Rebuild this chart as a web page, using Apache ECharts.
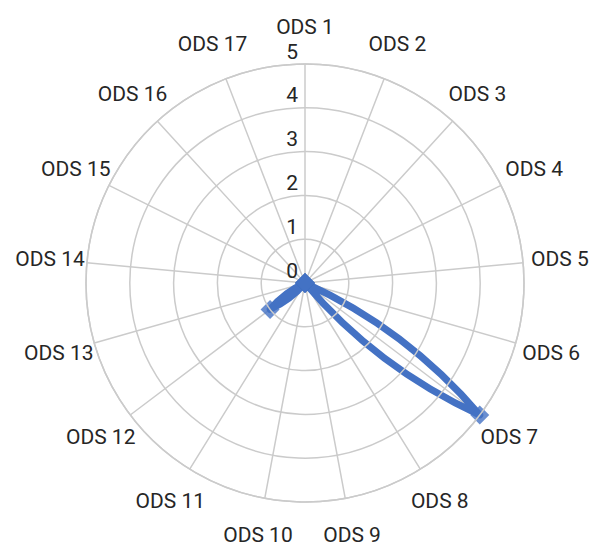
<!DOCTYPE html>
<html><head><meta charset="utf-8">
<script src="https://cdn.jsdelivr.net/npm/echarts@6/dist/echarts.min.js"></script>
<style>html,body{margin:0;padding:0;background:#fff}#chart{width:594px;height:547px}</style>
</head><body><div id="chart"></div>
<script>
// ---- data ----
const categories = ['ODS 1','ODS 2','ODS 3','ODS 4','ODS 5','ODS 6','ODS 7','ODS 8','ODS 9','ODS 10','ODS 11','ODS 12','ODS 13','ODS 14','ODS 15','ODS 16','ODS 17'];
const values = [0,0,0,0,0,0,5,0,0,0,0,1,0,0,0,0,0];
const radiusTickLabels = ['0','1','2','3','4','5'];

// ---- style ----
const AXIS_MAX = 5;
const BLUE = '#4472C4';
const GRID = '#cbcbcb';
const TEXT = '#262626';
const FONT = 'Roboto';
const LABEL_GAP = 37;
const BULGE = 0.9;

function smoothPath(api) {
  const n = values.length;
  const c = api.coord([0, 0]);
  const pts = [];
  for (let i = 0; i < n; i++) {
    const p = api.coord([values[i], i]);
    const e = api.coord([AXIS_MAX, i]);
    pts.push({ p: p, a: Math.atan2(e[1] - c[1], e[0] - c[0]), r: Math.hypot(p[0] - c[0], p[1] - c[1]) });
  }
  let d = 'M' + pts[0].p[0] + ' ' + pts[0].p[1];
  for (let i = 0; i < n; i++) {
    const A = pts[i], B = pts[(i + 1) % n];
    let da = B.a - A.a;
    while (da > Math.PI) da -= 2 * Math.PI;
    while (da < -Math.PI) da += 2 * Math.PI;
    const cps = [1 / 3, 2 / 3].map(function (t) {
      const ang = A.a + da * t, rad = A.r + (B.r - A.r) * t;
      const px = c[0] + rad * Math.cos(ang), py = c[1] + rad * Math.sin(ang);
      const lx = A.p[0] + (B.p[0] - A.p[0]) * t, ly = A.p[1] + (B.p[1] - A.p[1]) * t;
      return [lx + (px - lx) * BULGE, ly + (py - ly) * BULGE];
    });
    d += ' C' + cps[0][0] + ' ' + cps[0][1] + ' ' + cps[1][0] + ' ' + cps[1][1] + ' ' + B.p[0] + ' ' + B.p[1];
  }
  return d + ' Z';
}

const chart = echarts.init(document.getElementById('chart'), null, { renderer: 'svg' });
chart.setOption({
  animation: false,
  backgroundColor: '#ffffff',
  polar: { center: [305, 283], radius: 219 },
  angleAxis: {
    type: 'value',
    min: 0, max: categories.length, interval: 1,
    startAngle: 90,
    clockwise: true,
    axisLine: { show: true, lineStyle: { color: GRID, width: 1.5 } },
    axisTick: { show: false },
    axisLabel: { show: false },
    splitLine: { show: true, lineStyle: { color: GRID, width: 1.5 } }
  },
  radiusAxis: {
    type: 'value',
    min: 0, max: AXIS_MAX, interval: 1,
    axisLine: { show: false },
    axisTick: { show: false },
    splitLine: { show: true, lineStyle: { color: GRID, width: 1.5 } },
    axisLabel: {
      show: true, margin: 7, color: TEXT, fontSize: 21, fontFamily: FONT,
      verticalAlign: 'bottom', padding: [0, 0, 2, 0],
      formatter: function (v) { return radiusTickLabels[Math.round(v)]; }
    },
    z: 10
  },
  series: [
    {
      type: 'custom',
      coordinateSystem: 'polar',
      data: categories.map(function (c, i) { return [0, i]; }),
      encode: { radius: 0, angle: 1 },
      silent: true,
      renderItem: function (params, api) {
        const i = params.dataIndex;
        const c = api.coord([0, i]);
        const e = api.coord([AXIS_MAX, i]);
        const R = Math.hypot(e[0] - c[0], e[1] - c[1]);
        const k = (R + LABEL_GAP) / R;
        return {
          type: 'text',
          x: c[0] + (e[0] - c[0]) * k,
          y: c[1] + (e[1] - c[1]) * k,
          style: { text: categories[i], fill: TEXT, fontSize: 21, fontFamily: FONT, align: 'center', verticalAlign: 'middle' }
        };
      }
    },
    {
      type: 'custom',
      coordinateSystem: 'polar',
      data: values.map(function (v, i) { return [v, i]; }),
      encode: { radius: 0, angle: 1 },
      silent: true,
      z: 3,
      renderItem: function (params, api) {
        if (params.dataIndex !== 0) return null;
        return {
          type: 'path',
          shape: { pathData: smoothPath(api) },
          style: { fill: 'none', stroke: BLUE, lineWidth: 7, lineJoin: 'round', lineCap: 'round' }
        };
      }
    },
    {
      type: 'scatter',
      coordinateSystem: 'polar',
      data: values.map(function (v, i) { return [v, i]; }),
      symbol: 'diamond',
      symbolSize: 19,
      itemStyle: { color: BLUE },
      silent: true,
      z: 4
    }
  ]
});
</script>
</body></html>
